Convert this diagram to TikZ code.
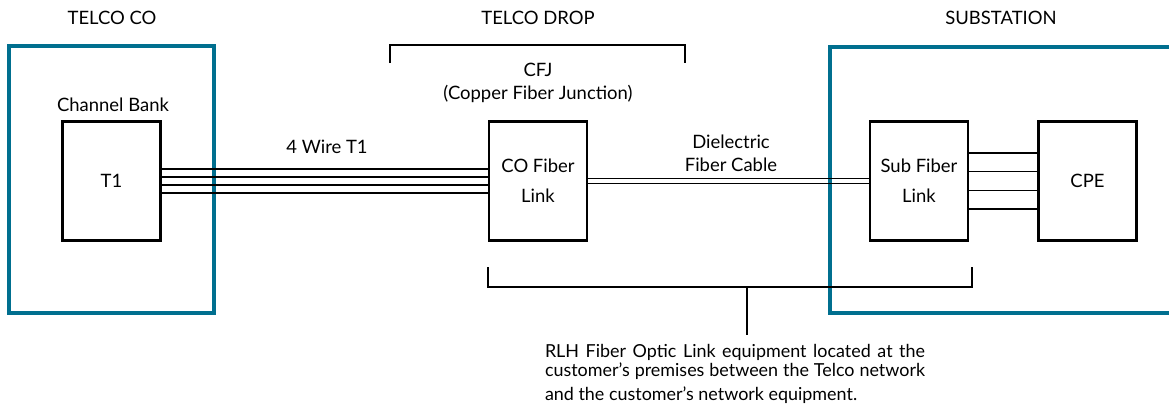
\documentclass[tikz,border=0pt]{standalone}
\usepackage{fontspec}
\setmainfont{Lato}
\definecolor{siteblue}{RGB}{0,111,143}
\begin{document}
\begin{tikzpicture}[box/.style = {draw,line width=1.2pt,minimum width=1.96cm,minimum height=2.38cm,inner sep=0pt,align=center},
                    site/.style = {draw=siteblue,line width=2.8pt},
                    wire/.style = {line width=0.8pt},
                    brace/.style = {line width=1.1pt},
                    font=\fontsize{10.5}{13}\selectfont]
                    \useasboundingbox (0,0) rectangle (23.38,8.1);

                    % sites
                    \draw[site] (0.18,1.84) rectangle (4.28,7.18);
                    \draw[site] (16.6,1.84) rectangle (23.6,7.16);

                    \node (telco) at (2.24,7.74) {TELCO CO};
                    \node (drop) at (10.76,7.74) {TELCO DROP};
                    \node (subst) at (20.02,7.74) {SUBSTATION};

                    % equipment
                    \node (bank) at (2.26,6.0) {Channel Bank};
                    \node [box] (t1) at (2.23,4.48) {T1};
                    \node [box] (colink) at (10.76,4.48) {CO Fiber\\[4pt]Link};
                    \node [box] (sublink) at (18.38,4.48) {Sub Fiber\\[4pt]Link};
                    \node [box] (cpe) at (21.75,4.48) {CPE};

                    % cables
                    \foreach \dy in {0.24,0.08,-0.08,-0.24}
                        \draw[wire] ([yshift=\dy cm]t1.east) -- ([yshift=\dy cm]colink.west);
                    \foreach \dy in {0.05,-0.05}
                        \draw[wire] ([yshift=\dy cm]colink.east) -- ([yshift=\dy cm]sublink.west);
                    \foreach \dy in {0.56,0.19,-0.19,-0.56}
                        \draw[wire] ([yshift=\dy cm]sublink.east) -- ([yshift=\dy cm]cpe.west);

                    \node (wires) at (6.54,5.16) {4 Wire T1};
                    \node [align=center] (cable) at (14.62,5.04) {Dielectric\\Fiber Cable};
                    \node [align=center] (cfj) at (10.76,6.45) {CFJ\\(Copper Fiber Junction)};

                    % brackets
                    \draw[brace] (7.8,6.84) -- (7.8,7.2) -- (13.7,7.2) -- (13.7,6.84);
                    \draw[brace] (9.76,2.76) -- (9.76,2.36) -- (19.44,2.36) -- (19.44,2.76);
                    \coordinate (stem) at (14.94,2.36);
                    \draw[brace] (stem) -- ++(0,-0.96) coordinate (stemend);

                    \node [anchor=north,text width=7.6cm,align=justify,font=\fontsize{10.2}{10.8}\selectfont] (note) at (14.7,1.34)
                        {\parfillskip=0pt RLH Fiber Optic Link equipment located at the\linebreak customer's premises between the Telco network\par
                         \parfillskip=0pt plus 1fil\vspace{2.8pt}and the customer's network equipment.};
                \end{tikzpicture}
\end{document}
